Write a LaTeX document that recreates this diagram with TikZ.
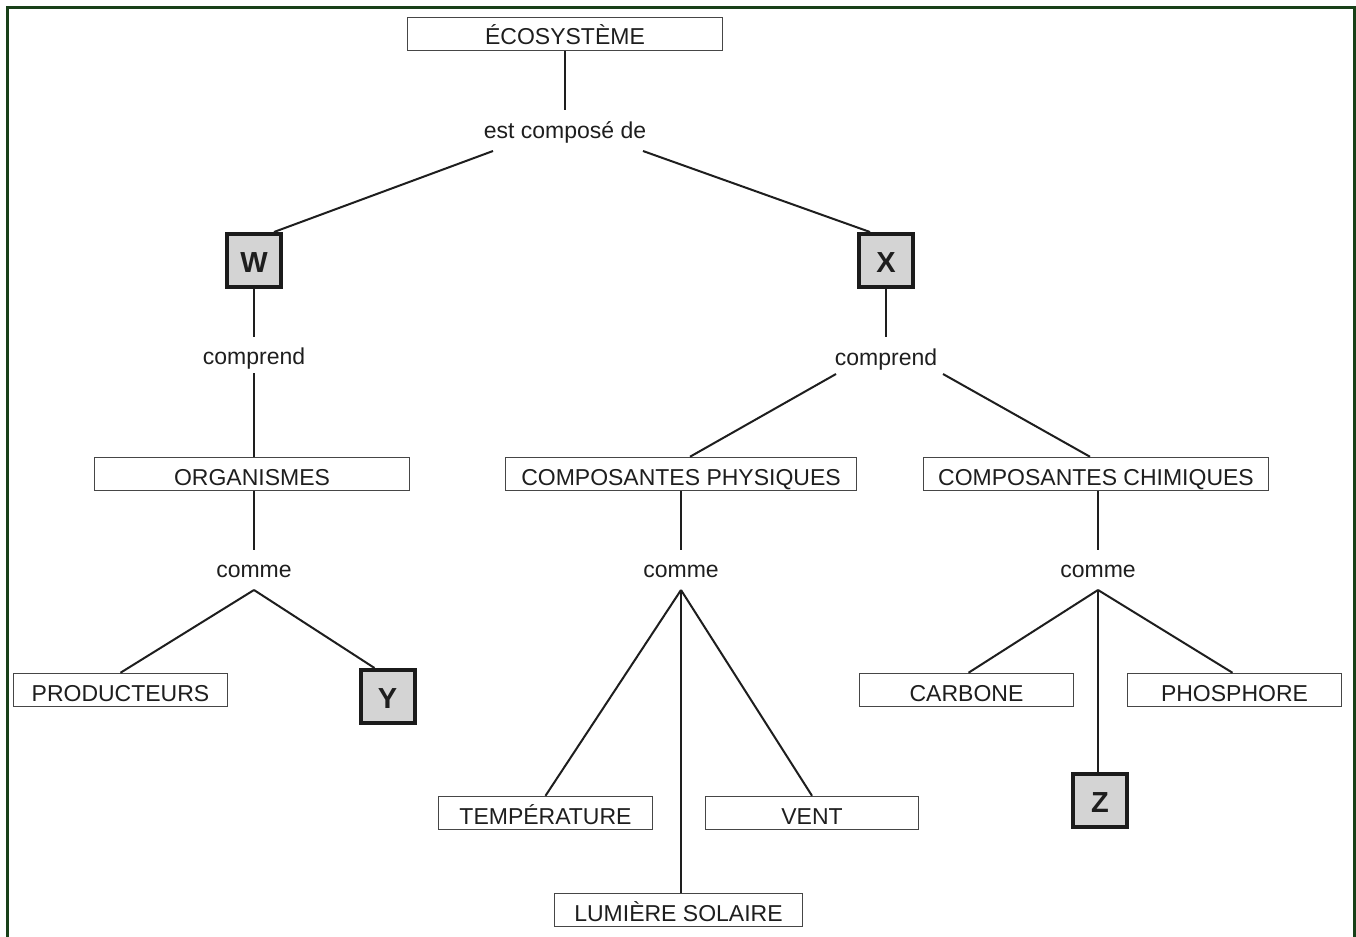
\documentclass[tikz,border=0pt]{standalone}
\usepackage{fontspec}
\setmainfont{Liberation Sans}
\usetikzlibrary{calc}
\definecolor{frameg}{RGB}{24,64,24}
\definecolor{ink}{RGB}{30,30,30}
\definecolor{boxline}{RGB}{70,70,70}
\definecolor{letterfill}{RGB}{212,212,212}
\tikzset{
  cbox/.style={draw=boxline, line width=0.75pt, fill=white, inner sep=0pt,
    minimum height=16.5pt, text height=11pt, text depth=0pt, text=ink,
    font=\fontsize{11.5}{13.8}\selectfont},
  lbox/.style={draw=ink!90!black, line width=2pt, fill=letterfill, inner sep=0pt,
    minimum width=27pt, minimum height=26.5pt, text height=12.4pt, text depth=0pt,
    text=ink, font=\fontsize{14.5}{17}\selectfont\bfseries},
  lab/.style={inner sep=0pt, anchor=base, text=ink, font=\fontsize{11.5}{13.8}\selectfont},
  conn/.style={draw=ink, line width=1pt}
}
\begin{document}
\begin{tikzpicture}[x=0.5pt,y=-0.5pt]
\useasboundingbox (0,0) rectangle (1356,937);
\draw[frameg, line width=1.5pt] (7,950) -- (7,7.5) -- (1354.5,7.5) -- (1354.5,950);

% nodes
\node[cbox, minimum width=157.5pt] (eco) at (565,34) {ÉCOSYSTÈME};
\node[lab] (est) at (565,138) {est composé de};
\node[lbox] (W) at (254,260.5) {W};
\node[lbox] (X) at (886,260.5) {X};
\node[lab] (cW) at (254,364) {comprend};
\node[lab] (cX) at (886,365) {comprend};
\node[cbox, minimum width=157.5pt] (org) at (252,474) {ORGANISMES};
\node[cbox, minimum width=175.5pt] (phys) at (681,474) {COMPOSANTES PHYSIQUES};
\node[cbox, minimum width=172.5pt] (chim) at (1096,474) {COMPOSANTES CHIMIQUES};
\node[lab] (mW) at (254,577) {comme};
\node[lab] (mP) at (681,577) {comme};
\node[lab] (mC) at (1098,577) {comme};
\node[cbox, minimum width=107pt] (prod) at (120.5,690) {PRODUCTEURS};
\node[lbox] (Y) at (387.5,696.5) {Y};
\node[cbox, minimum width=107pt] (carb) at (966.5,690) {CARBONE};
\node[cbox, minimum width=107pt] (phos) at (1234.5,690) {PHOSPHORE};
\node[lbox] (Z) at (1100,800.5) {Z};
\node[cbox, minimum width=107pt] (temp) at (545.5,813) {TEMPÉRATURE};
\node[cbox, minimum width=106.5pt] (vent) at (812,813) {VENT};
\node[cbox, minimum width=124pt] (lum) at (678.5,910) {LUMIÈRE SOLAIRE};

% connectors
\path[conn] (eco.south) -- ($(est.base)+(0,-28)$);
\path[conn] ($(est.base)+(-72,13)$) -- ([xshift=-4.5pt]W.north east);
\path[conn] ($(est.base)+(78,13)$) -- ([xshift=6.5pt]X.north west);

\path[conn] (W.south) -- ($(cW.base)+(0,-27)$);
\path[conn] ($(cW.base)+(0,9)$) -- (cW.base |- org.north);
\path[conn] (X.south) -- ($(cX.base)+(0,-28)$);
\path[conn] ($(cX.base)+(-50,9)$) -- ([xshift=4.5pt]phys.north);
\path[conn] ($(cX.base)+(57,9)$) -- ([xshift=-3pt]chim.north);

\path[conn] (mW.base |- org.south) -- ($(mW.base)+(0,-27)$);
\path[conn] ($(mW.base)+(0,13)$) -- (prod.north);
\path[conn] ($(mW.base)+(0,13)$) -- ([xshift=8pt]Y.north west);

\path[conn] (mP.base |- phys.south) -- ($(mP.base)+(0,-27)$);
\path[conn] ($(mP.base)+(0,13)$) -- (temp.north);
\path[conn] ($(mP.base)+(0,13)$) -- (vent.north);
\path[conn] ($(mP.base)+(0,13)$) -- (mP.base |- lum.north);

\path[conn] (mC.base |- chim.south) -- ($(mC.base)+(0,-27)$);
\path[conn] ($(mC.base)+(0,13)$) -- ([xshift=1pt]carb.north);
\path[conn] ($(mC.base)+(0,13)$) -- ([xshift=-1pt]phos.north);
\path[conn] ($(mC.base)+(0,13)$) -- (mC.base |- Z.north);
\end{tikzpicture}
\end{document}
